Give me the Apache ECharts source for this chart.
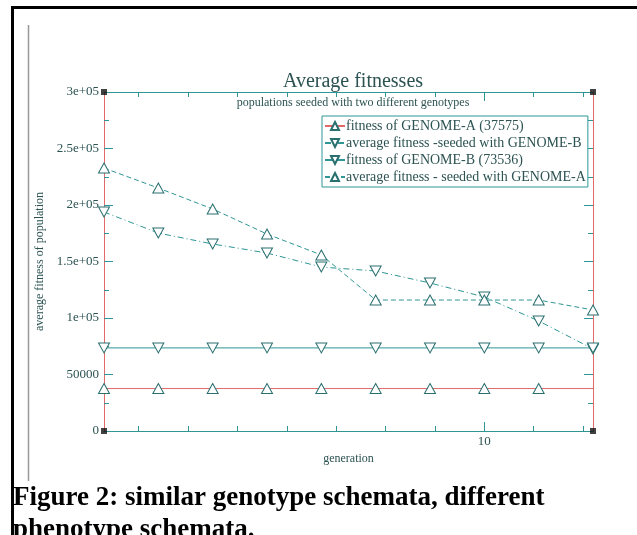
<!DOCTYPE html>
<html><head><meta charset="utf-8">
<script src="https://cdn.jsdelivr.net/npm/echarts@6/dist/echarts.min.js"></script>
<style>html,body{margin:0;padding:0;background:#fff}#c{width:637px;height:535px}</style>
</head><body><div id="c"></div>
<script>
var generations = [2.3, 3.4, 4.5, 5.6, 6.7, 7.8, 8.9, 10, 11.1, 12.2];
var fitnessGenomeA = [37575, 37575, 37575, 37575, 37575, 37575, 37575, 37575, 37575, 37575];
var avgSeededB = [193800, 175200, 165500, 157500, 145100, 141600, 131000, 118600, 97400, 72600];
var fitnessGenomeB = [73536, 73536, 73536, 73536, 73536, 73536, 73536, 73536, 73536, 73536];
var avgSeededA = [232700, 215000, 196500, 174300, 155800, 115900, 115900, 115900, 115900, 107100];
var seriesNames = ['fitness of GENOME-A (37575)', 'average fitness -seeded with GENOME-B', 'fitness of GENOME-B (73536)', 'average fitness - seeded with GENOME-A'];
var yTickLabels = ['0', '50000', '1e+05', '1.5e+05', '2e+05', '2.5e+05', '3e+05'];
var xMinorTicks = [3, 4, 5, 6, 7, 8, 9, 11, 12];
var xMajorTicks = [10];
var xRange = [2.3, 12.2];
var yRange = [0, 300000];

var FONT = 'Liberation Serif';
var TEAL = '#2f9595';
var RED = '#e06a6a';
var TXT = '#2c5252';

function pts(vals, hideLast) {
  return vals.map(function (v, i) {
    var d = { value: [generations[i], v] };
    if (hideLast && i === vals.length - 1) d.symbolSize = 0;
    return d;
  });
}
function xAxisDef(pos, major, showLine, color, withLabel) {
  return {
    type: 'value', position: pos, min: xRange[0], max: xRange[1],
    axisLine: { show: showLine, onZero: false, lineStyle: { color: color, width: 1 } },
    axisTick: { show: true, inside: true, length: major ? 9 : 5, customValues: major ? xMajorTicks : xMinorTicks, lineStyle: { color: TEAL } },
    axisLabel: withLabel ? { show: true, customValues: xMajorTicks, fontFamily: FONT, fontSize: 13, color: TXT, margin: 4 } : { show: false },
    splitLine: { show: false }
  };
}
function yAxisDef(pos, withLabel) {
  return {
    type: 'value', position: pos, min: yRange[0], max: yRange[1], interval: 50000,
    axisLine: { show: true, lineStyle: { color: RED, width: 1 } },
    axisTick: { show: true, inside: true, length: 9, lineStyle: { color: TEAL } },
    minorTick: { show: true, splitNumber: 2, length: 5, lineStyle: { color: TEAL } },
    axisLabel: withLabel ? {
      show: true, fontFamily: FONT, fontSize: 13, color: TXT, margin: 5,
      formatter: function (v) { return yTickLabels[Math.round(v / 50000)]; }
    } : { show: false },
    splitLine: { show: false }
  };
}

var symSize = [11, 10];
var xa0 = xAxisDef('bottom', false, true, TEAL, true);
xa0.name = 'generation';
xa0.nameLocation = 'middle';
xa0.nameGap = 19;
xa0.nameTextStyle = { fontFamily: FONT, fontSize: 12, color: TXT };
var ya0 = yAxisDef('left', true);
ya0.name = 'average fitness of population';
ya0.nameLocation = 'middle';
ya0.nameGap = 57;
ya0.nameTextStyle = { fontFamily: FONT, fontSize: 12, color: TXT };

var option = {
  animation: false,
  backgroundColor: '#fff',
  title: [
    {
      text: 'Average fitnesses', subtext: 'populations seeded with two different genotypes',
      left: 348, textAlign: 'center', top: 67, itemGap: 5,
      textStyle: { fontFamily: FONT, fontSize: 20, fontWeight: 'normal', color: TXT },
      subtextStyle: { fontFamily: FONT, fontSize: 12, color: TXT }
    },
    {
      text: 'Figure 2: similar genotype schemata, different\nphenotype schemata.',
      left: 13, top: 482, padding: 0,
      textStyle: { fontFamily: FONT, fontSize: 27, fontWeight: 'bold', color: '#000', lineHeight: 32 }
    }
  ],
  graphic: [
    { type: 'line', shape: { x1: 12.5, y1: 7, x2: 12.5, y2: 535 }, style: { stroke: '#000', lineWidth: 3 } },
    { type: 'line', shape: { x1: 11, y1: 7.5, x2: 637, y2: 7.5 }, style: { stroke: '#000', lineWidth: 3 } },
    { type: 'line', shape: { x1: 28.5, y1: 25, x2: 28.5, y2: 481 }, style: { stroke: '#999', lineWidth: 1.5 } }
  ],
  legend: {
    orient: 'vertical', left: 322, top: 116,
    padding: [3, 2, 3, 2], itemGap: 3, itemWidth: 20, itemHeight: 10,
    borderColor: TEAL, borderWidth: 1, backgroundColor: '#fff',
    textStyle: { fontFamily: FONT, fontSize: 14, color: TXT, padding: [0, 0, 0, -4] },
    data: seriesNames
  },
  grid: { left: 104, right: 44, top: 92, bottom: 104, containLabel: false },
  xAxis: [
    xa0,
    xAxisDef('bottom', true, false, TEAL, false),
    xAxisDef('top', false, true, TEAL, false),
    xAxisDef('top', true, false, TEAL, false)
  ],
  yAxis: [ya0, yAxisDef('right', false)],
  series: [
    {
      name: seriesNames[0], type: 'line', data: pts(fitnessGenomeA, true),
      symbol: 'triangle', symbolSize: symSize, showAllSymbol: true,
      lineStyle: { color: RED, width: 1 },
      itemStyle: { color: '#fff', borderColor: '#2a6f6f', borderWidth: 1 }
    },
    {
      name: seriesNames[1], type: 'line', data: pts(avgSeededB, false),
      symbol: 'triangle', symbolRotate: 180, symbolSize: symSize, showAllSymbol: true,
      lineStyle: { color: TEAL, width: 1, type: [6, 3, 1, 3] },
      itemStyle: { color: '#fff', borderColor: '#2a6f6f', borderWidth: 1 }
    },
    {
      name: seriesNames[2], type: 'line', data: pts(fitnessGenomeB, false),
      symbol: 'triangle', symbolRotate: 180, symbolSize: symSize, showAllSymbol: true,
      lineStyle: { color: TEAL, width: 1 },
      itemStyle: { color: '#fff', borderColor: '#2a6f6f', borderWidth: 1 }
    },
    {
      name: seriesNames[3], type: 'line', data: pts(avgSeededA, false),
      symbol: 'triangle', symbolSize: symSize, showAllSymbol: true,
      lineStyle: { color: TEAL, width: 1, type: [5, 3] },
      itemStyle: { color: '#fff', borderColor: '#2a6f6f', borderWidth: 1 }
    },
    {
      name: 'corners', type: 'scatter', silent: true, symbol: 'rect', symbolSize: 6,
      itemStyle: { color: '#111' }, z: 5,
      data: [[xRange[0], yRange[0]], [xRange[0], yRange[1]], [xRange[1], yRange[0]], [xRange[1], yRange[1]]]
    }
  ]
};
var chart = echarts.init(document.getElementById('c'), null, { renderer: 'canvas' });
chart.setOption(option);
</script></body></html>
